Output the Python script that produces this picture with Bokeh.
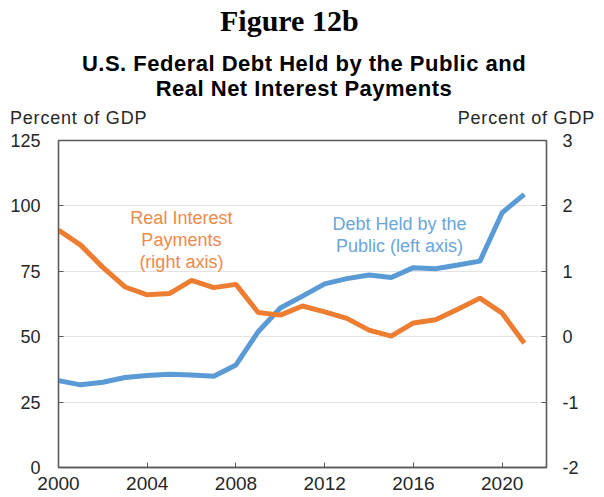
from bokeh.plotting import figure
from bokeh.models import Range1d, LinearAxis, Label, FixedTicker, Div, CustomJSTickFormatter
from bokeh.layouts import column
from bokeh.embed import file_html
from bokeh.resources import INLINE

years = list(range(2000, 2022))
debt_pct_gdp = [33.2, 31.6, 32.6, 34.4, 35.2, 35.6, 35.4, 34.9, 39.2, 51.9, 61.0,
                65.5, 70.2, 72.2, 73.6, 72.6, 76.4, 76.0, 77.4, 78.9, 97.4, 104.4]
real_interest_pct_gdp = [1.63, 1.40, 1.06, 0.76, 0.64, 0.66, 0.86, 0.75, 0.80, 0.37, 0.33,
                         0.47, 0.38, 0.28, 0.10, 0.01, 0.21, 0.26, 0.42, 0.59, 0.36, -0.10]
left_ticks = [0, 25, 50, 75, 100, 125]
right_ticks = [-2, -1, 0, 1, 2, 3]
x_ticks = [2000, 2004, 2008, 2012, 2016, 2020]

title_text = "Figure 12b"
subtitle_lines = ["U.S. Federal Debt Held by the Public and", "Real Net Interest Payments"]
axis_unit = "Percent of GDP"
interest_note = ["Real Interest", "Payments", "(right axis)"]
debt_note = ["Debt Held by the", "Public (left axis)"]

BLUE = "#5B9BD5"
ORANGE = "#ED7D31"
AXIS = "#595959"
TXT = "#262626"
FONT = "Liberation Sans"

# ---- header (HTML text) ----
def box(left, top, width, size, text, align="left", family=FONT, weight="normal",
        color=TXT, spacing=0):
    return (f'<div style="position:absolute;left:{left}px;top:{top}px;width:{width}px;'
            f'text-align:{align};font-family:\'{family}\';font-weight:{weight};'
            f'font-size:{size}px;line-height:{size}px;color:{color};white-space:nowrap;'
            f'letter-spacing:{spacing}px;">{text}</div>')

header_html = ('<div style="position:relative;width:600px;height:130px;margin:0;padding:0;">'
               + box(220, 6, 300, 30, title_text, family="Liberation Serif", weight="bold", color="black")
               + box(4, 53, 600, 22, subtitle_lines[0], align="center", weight="bold",
                     color="black", spacing=0.5)
               + box(4, 78, 600, 22, subtitle_lines[1], align="center", weight="bold",
                     color="black", spacing=0.5)
               + box(10, 109, 200, 18, axis_unit, spacing=0.8)
               + box(395, 109, 200, 18, axis_unit, align="right", spacing=0.8)
               + '</div>')
header = Div(text=header_html, width=600, height=130, margin=(0, 0, 0, 0))

# ---- chart ----
p = figure(width=600, height=362, output_backend="svg", toolbar_location=None,
           x_range=Range1d(2000, 2022), y_range=Range1d(0, 125),
           min_border_left=58, min_border_right=54, min_border_top=10, min_border_bottom=24,
           margin=(0, 0, 0, 0))
p.extra_y_ranges = {"right": Range1d(-2, 3)}

p.outline_line_color = AXIS
p.outline_line_width = 1.3
p.background_fill_color = "white"
p.border_fill_color = "white"

p.xgrid.visible = False
p.ygrid.grid_line_color = "#E3E3E3"
p.ygrid.ticker = FixedTicker(ticks=left_ticks)

xa = p.xaxis[0]
xa.ticker = FixedTicker(ticks=x_ticks)
ya = p.yaxis[0]
ya.ticker = FixedTicker(ticks=left_ticks)

ra = LinearAxis(y_range_name="right", ticker=FixedTicker(ticks=right_ticks))
p.add_layout(ra, "right")

fmt = CustomJSTickFormatter(code="return String(tick);")
for ax in [xa, ya, ra]:
    ax.axis_line_color = AXIS
    ax.axis_line_width = 1.3
    ax.major_tick_line_color = AXIS
    ax.major_tick_in = 5
    ax.major_tick_out = 0
    ax.minor_tick_line_color = None
    ax.major_label_text_font = FONT
    ax.major_label_text_color = TXT
    ax.major_label_text_font_size = "18px"
    ax.formatter = fmt
xa.major_label_standoff = 9
xa.major_label_text_font_size = "19px"
ya.major_label_standoff = 18
ra.major_label_standoff = 16

p.line(years, debt_pct_gdp, line_color=BLUE, line_width=5)
p.line(years, real_interest_pct_gdp, line_color=ORANGE, line_width=5, y_range_name="right")

for txt, yv in zip(interest_note, [95.2, 86.9, 78.6]):
    p.add_layout(Label(x=2005.54, y=yv, text=txt, text_align="center", text_baseline="middle",
                       text_font=FONT, text_font_size="18px", text_color="#EE8A4A"))
for txt, yv in zip(debt_note, [92.9, 84.7]):
    p.add_layout(Label(x=2015.37, y=yv, text=txt, text_align="center", text_baseline="middle",
                       text_font=FONT, text_font_size="18px", text_color="#6AA5DB"))

layout = column(header, p, spacing=0, margin=(0, 0, 0, 0))
open("out.html", "w").write(file_html(layout, INLINE))
